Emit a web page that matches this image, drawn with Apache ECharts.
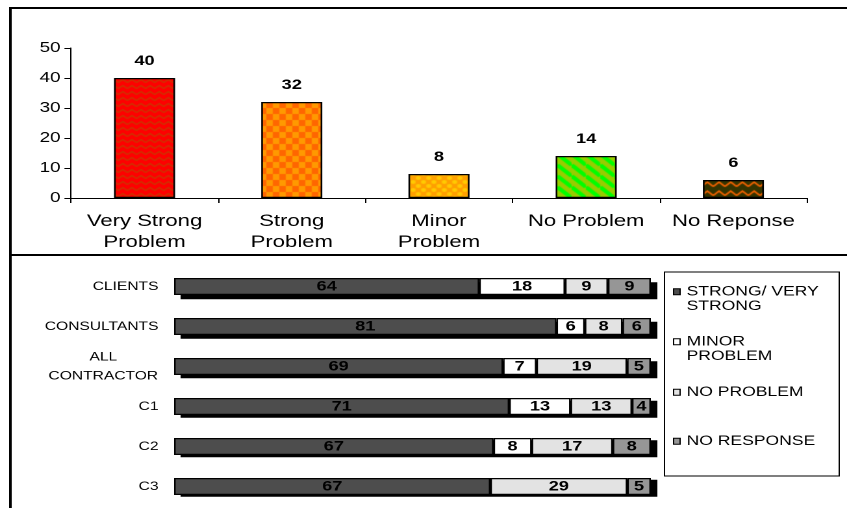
<!DOCTYPE html>
<html>
<head>
<meta charset="utf-8">
<script src="https://cdn.jsdelivr.net/npm/echarts@6/dist/echarts.min.js"></script>
<style>
  html, body { margin: 0; padding: 0; background: #fff; overflow: hidden; }
  #wrap { width: 847px; height: 508px; overflow: hidden; }
  /* the chart is laid out narrow and widened horizontally */
  #chart { width: 652px; height: 508px; transform: scaleX(1.2991); transform-origin: 0 0; }
</style>
</head>
<body>
<div id="wrap"><div id="chart"></div></div>
<script>
// Upper panel: how serious the problem is (responses)
const severityCategories = ['Very Strong\nProblem', 'Strong\nProblem', 'Minor\nProblem', 'No Problem', 'No Reponse'];
const severityCounts = [40, 32, 8, 14, 6];
const severityTicks = { min: 0, max: 50, interval: 10 };

// Lower panel: answers per respondent group (%)
const groups = ['CLIENTS', 'CONSULTANTS', 'ALL\nCONTRACTOR', 'C1', 'C2', 'C3'];
const strongVeryStrong = [64, 81, 69, 71, 67, 67];
const minorProblem = [18, 6, 7, 13, 8, 0];
const noProblem = [9, 8, 19, 13, 17, 29];
const noResponse = [9, 6, 5, 4, 8, 5];
const answerNames = ['STRONG/ VERY STRONG', 'MINOR PROBLEM', 'NO PROBLEM', 'NO RESPONSE'];
const answerLegendText = ['STRONG/ VERY\nSTRONG', 'MINOR\nPROBLEM', 'NO PROBLEM', 'NO RESPONSE'];

const FONT = '"Liberation Sans", Arial, Helvetica, sans-serif';

// small repeating tiles used as bar fills
function tile(w, h, bg, draw) {
  const c = document.createElement('canvas');
  c.width = w; c.height = h;
  const g = c.getContext('2d');
  g.fillStyle = bg; g.fillRect(0, 0, w, h);
  draw(g, w, h);
  return { image: c, repeat: 'repeat' };
}
const fills = [
  tile(7, 6, '#ff0000', g => {
    g.strokeStyle = '#c83a00'; g.lineWidth = 1.3;
    g.beginPath(); g.moveTo(0, 4.5); g.lineTo(3.5, 1.5); g.lineTo(7, 4.5); g.stroke();
  }),
  tile(10, 12, '#ff9900', g => {
    g.fillStyle = '#ff6600'; g.fillRect(0, 0, 5, 6); g.fillRect(5, 6, 5, 6);
  }),
  tile(8, 8, '#ff9f00', g => {
    g.fillStyle = '#ffcc00';
    g.beginPath(); g.arc(2, 2, 2, 0, Math.PI * 2); g.fill();
    g.beginPath(); g.arc(6, 6, 2, 0, Math.PI * 2); g.fill();
  }),
  tile(11, 11, '#99cc00', g => {
    g.strokeStyle = '#00ff00'; g.lineWidth = 3.6;
    for (const k of [-11, 0, 11]) { g.beginPath(); g.moveTo(0, k); g.lineTo(11, 11 + k); g.stroke(); }
  }),
  tile(9, 9, '#333300', g => {
    g.strokeStyle = '#ff6600'; g.lineWidth = 1.5;
    g.beginPath(); g.moveTo(0, 6.5); g.lineTo(4.5, 2); g.lineTo(9, 6.5); g.stroke();
  })
];

const answerColors = ['#4d4d4d', '#ffffff', '#e3e3e3', '#969696'];
const answerSets = [strongVeryStrong, minorProblem, noProblem, noResponse];
const rowTotals = groups.map((_, i) => answerSets.reduce((s, a) => s + a[i], 0));
const answerShares = answerSets.map(values => values.map((v, i) => v / rowTotals[i] * 100));
const rowShareSums = groups.map((_, i) => answerShares.reduce((s, a) => s + a[i], 0));

const chart = echarts.init(document.getElementById('chart'), null, { renderer: 'canvas', devicePixelRatio: 2 });

const stackedSeries = answerSets.map((values, k) => ({
  name: answerNames[k],
  type: 'bar',
  xAxisIndex: 1,
  yAxisIndex: 1,
  stack: 'share',
  barWidth: 17,
  z: 3,
  data: values.map((v, i) => ({ value: answerShares[k][i], raw: v })),
  itemStyle: { color: answerColors[k], borderColor: '#000', borderWidth: 1.2 },
  label: {
    show: true,
    position: 'inside',
    color: '#000',
    fontFamily: FONT,
    fontWeight: 'bold',
    fontSize: 14,
    formatter: p => (p.data.raw === 0 ? '' : String(p.data.raw))
  },
  emphasis: { disabled: true }
}));

// drop shadow under each stacked row
const rowShadow = {
  type: 'bar',
  xAxisIndex: 2,
  yAxisIndex: 2,
  barWidth: 17,
  z: 1,
  silent: true,
  data: rowShareSums,
  itemStyle: { color: '#000' },
  label: { show: false },
  emphasis: { disabled: true }
};

// two-line entries get an empty first line so the marker sits beside their first line
const legendTops = [270, 320, 385, 434];
const legends = answerNames.map((name, k) => ({
  data: [name],
  orient: 'vertical',
  left: 518,
  top: legendTops[k],
  padding: 0,
  icon: 'rect',
  itemWidth: 5,
  itemHeight: 6,
  selectedMode: false,
  itemStyle: { borderWidth: 1, borderColor: '#000' },
  formatter: () => (answerLegendText[k].includes('\n') ? '\n' : '') + answerLegendText[k],
  textStyle: {
    color: '#000',
    fontFamily: FONT,
    fontSize: 13.5,
    lineHeight: 14.5
  }
}));

chart.setOption({
  animation: false,
  backgroundColor: '#fff',
  grid: [
    { left: 54.6, right: 30.8, top: 48, height: 150 },
    { left: 134, right: 151, top: 266.5, height: 240 },
    { left: 139, right: 146, top: 271, height: 240 }
  ],
  legend: legends,
  xAxis: [
    {
      gridIndex: 0,
      type: 'category',
      data: severityCategories,
      axisLine: { lineStyle: { color: '#000', width: 1 } },
      axisTick: { show: true, length: 5, lineStyle: { color: '#000' } },
      axisLabel: { interval: 0, color: '#000', fontFamily: FONT, fontSize: 17, lineHeight: 21, margin: 13 }
    },
    { gridIndex: 1, type: 'value', min: 0, max: 100, show: false },
    { gridIndex: 2, type: 'value', min: 0, max: 100, show: false }
  ],
  yAxis: [
    {
      gridIndex: 0,
      type: 'value',
      min: severityTicks.min,
      max: severityTicks.max,
      interval: severityTicks.interval,
      axisLine: { show: true, lineStyle: { color: '#000', width: 1 } },
      axisTick: { show: true, length: 5, lineStyle: { color: '#000' } },
      splitLine: { show: false },
      axisLabel: { color: '#000', fontFamily: FONT, fontSize: 14.5, margin: 8 }
    },
    {
      gridIndex: 1,
      type: 'category',
      data: groups,
      inverse: true,
      axisLine: { show: false },
      axisTick: { show: false },
      axisLabel: {
        color: '#000',
        fontFamily: FONT,
        fontSize: 12,
        margin: 12,
        formatter: v => v.includes('\n') ? v.split('\n').map(s => '{c|' + s + '}').join('\n') : v,
        rich: { c: { width: 85, align: 'center', fontSize: 12, lineHeight: 19, fontFamily: FONT, color: '#000' } }
      }
    },
    { gridIndex: 2, type: 'category', data: groups, inverse: true, show: false }
  ],
  series: [
    {
      type: 'bar',
      xAxisIndex: 0,
      yAxisIndex: 0,
      barWidth: 47,
      data: severityCounts.map((v, i) => ({ value: v, itemStyle: { color: fills[i] } })),
      itemStyle: { borderColor: '#000', borderWidth: 1.3 },
      label: { show: true, position: 'top', distance: 10, color: '#000', fontFamily: FONT, fontWeight: 'bold', fontSize: 14 },
      emphasis: { disabled: true }
    },
    rowShadow,
    ...stackedSeries
  ],
  graphic: [
    { type: 'polyline', shape: { points: [[8, 520], [8, 8], [700, 8]] }, style: { stroke: '#000', lineWidth: 2, fill: null } },
    { type: 'line', shape: { x1: 8, y1: 255, x2: 700, y2: 255 }, style: { stroke: '#000', lineWidth: 2 } },
    { type: 'rect', shape: { x: 511.5, y: 272, width: 134.5, height: 204 }, style: { stroke: '#000', lineWidth: 1, fill: null }, z: -1 }
  ]
});
</script>
</body>
</html>
